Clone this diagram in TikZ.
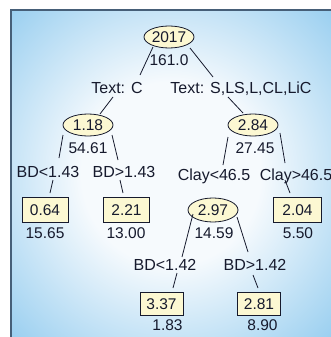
\documentclass[tikz,border=0pt]{standalone}
\usepackage{fontspec}
\setmainfont{Liberation Sans}
\usetikzlibrary{shapes.geometric}

\definecolor{panelblue}{RGB}{126,194,236}
\definecolor{panelcore}{RGB}{246,250,253}
\definecolor{panelrim}{RGB}{70,95,120}
\definecolor{inkc}{RGB}{22,26,45}
\definecolor{cream}{RGB}{252,248,210}

\pgfdeclareradialshading{panelglow}{\pgfpoint{0bp}{0bp}}{%
  color(0bp)=(panelcore); color(14bp)=(panelcore);
  color(42bp)=(panelblue); color(50bp)=(panelblue)}

\tikzset{
  txt/.style={font=\fontsize{16}{19}\selectfont, text=inkc, inner sep=0pt,
              text height=11.4pt, text depth=0pt},
  num/.style={txt, font=\fontsize{15.5}{18}\selectfont, text height=11pt},
  split/.style={num, ellipse, draw=inkc, fill=cream, line width=0.8pt,
                minimum width=50pt, minimum height=22pt},
  leaf/.style={num, rectangle, draw=inkc, fill=cream, line width=0.8pt,
               minimum width=46pt, minimum height=25pt},
  smallleaf/.style={leaf, minimum width=43pt, minimum height=23pt},
  link/.style={draw=inkc, line width=0.8pt},
}

\begin{document}
\begin{tikzpicture}[x=1pt, y=-1pt]
  \useasboundingbox (0,0) rectangle (331,337);

  % panel background
  \shade[shading=panelglow] (11,10) rectangle (331,337);
  \draw[panelrim, line width=1.2pt] (11,337) -- (11,10) -- (331,10);

  % root
  \node[split] (e2017) at (169,37) {2017};
  \node[num] (t161) at (169,60) {161.0};

  % first split
  \node[txt] (lblC) at (117,88) {Text: C};
  \node[txt] (lblS) at (241,88) {Text: S,LS,L,CL,LiC};

  \node[split] (e118) at (88,125) {1.18};
  \node[num] (t5461) at (88,148) {54.61};
  \node[split] (e284) at (253,125) {2.84};
  \node[num] (t2745) at (255,148) {27.45};

  % second level
  \node[txt] (lblBDa) at (48,172) {BD<1.43};
  \node[txt] (lblBDb) at (124,172) {BD>1.43};
  \node[txt] (lblClA) at (214,175) {Clay<46.5};
  \node[txt] (lblClB) at (296,175) {Clay>46.5};

  \node[leaf] (b064) at (45,209.5) {0.64};
  \node[num] (t1565) at (45,233) {15.65};
  \node[leaf] (b221) at (126.5,209.5) {2.21};
  \node[num] (t1300) at (126,233) {13.00};
  \node[split, minimum height=24pt] (e297) at (213,210) {2.97};
  \node[num] (t1459) at (214,233) {14.59};
  \node[leaf, minimum width=48pt] (b204) at (297.5,209.5) {2.04};
  \node[num] (t550) at (298,233) {5.50};

  % third level
  \node[txt] (lblBDc) at (165,265) {BD<1.42};
  \node[txt] (lblBDd) at (255,265) {BD>1.42};

  \node[smallleaf] (b337) at (161.5,303.5) {3.37};
  \node[num] (t183) at (167.5,325) {1.83};
  \node[smallleaf] (b281) at (259,303.5) {2.81};
  \node[num] (t890) at (262.5,325) {8.90};

  % connectors
  \path[link] ([shift={(-16,10)}]e2017.center) -- ([shift={(23,-13)}]lblC.center);
  \path[link] ([shift={(21,11)}]e2017.center) -- ([shift={(-28,-11)}]lblS.center);
  \path[link] ([shift={(-4,9)}]lblC.center) -- ([shift={(12,-11)}]e118.center);
  \path[link] ([shift={(-13,9)}]lblS.center) -- ([shift={(-10,-12)}]e284.center);
  \path[link] ([shift={(-25,10)}]e118.center) -- ([shift={(11,-14)}]lblBDa.center);
  \path[link] ([shift={(24,10)}]e118.center) -- ([shift={(-6,-12)}]lblBDb.center);
  \path[link] ([shift={(-25,12)}]e284.center) -- ([shift={(9,-10)}]lblClA.center);
  \path[link] ([shift={(27,8)}]e284.center) -- ([shift={(-11,-12)}]lblClB.center);
  \path[link] ([shift={(5,8)}]lblBDa.center) -- ([shift={(5,-16.5)}]b064.center);
  \path[link] ([shift={(-4,8)}]lblBDb.center) -- ([shift={(-3.5,-16.5)}]b221.center);
  \path[link] ([shift={(-11,5)}]lblClB.center) -- ([shift={(-7.5,-16.5)}]b204.center);
  \path[link] ([shift={(-20,4)}]e297.center) -- ([shift={(17,-8)}]lblBDc.center);
  \path[link] ([shift={(24,7)}]e297.center) -- ([shift={(-7,-13)}]lblBDd.center);
  \path[link] ([shift={(12,8)}]lblBDc.center) -- ([shift={(11.5,-15.5)}]b337.center);
  \path[link] ([shift={(-2,10)}]lblBDd.center) -- ([shift={(-1,-15.5)}]b281.center);
\end{tikzpicture}
\end{document}
